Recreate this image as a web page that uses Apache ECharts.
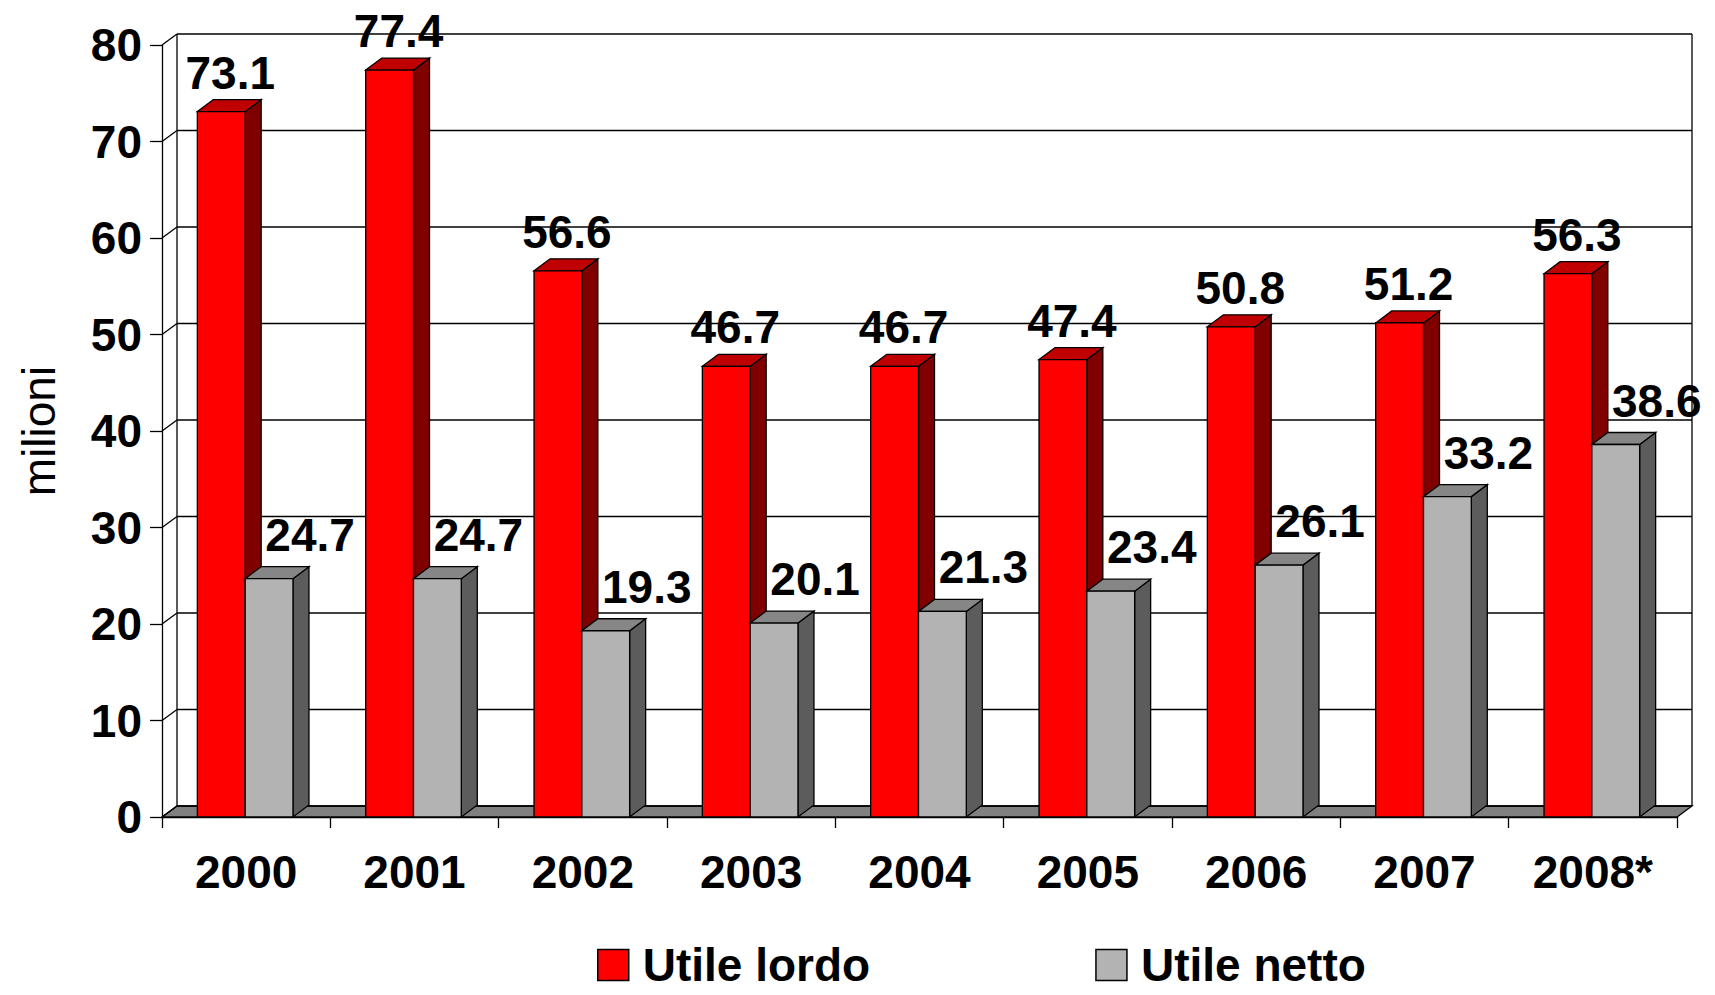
<!DOCTYPE html>
<html>
<head>
<meta charset="utf-8">
<script src="https://cdn.jsdelivr.net/npm/echarts@6/dist/echarts.min.js"></script>
<style>
  html, body { margin: 0; padding: 0; background: #fff; }
  #chart { width: 1715px; height: 995px; }
</style>
</head>
<body>
<div id="chart"></div>
<script>
var categories = ['2000', '2001', '2002', '2003', '2004', '2005', '2006', '2007', '2008*'];
var utileLordo = [73.1, 77.4, 56.6, 46.7, 46.7, 47.4, 50.8, 51.2, 56.3];
var utileNetto = [24.7, 24.7, 19.3, 20.1, 21.3, 23.4, 26.1, 33.2, 38.6];
var yTicks = [0, 10, 20, 30, 40, 50, 60, 70, 80];

var FONT = '"Liberation Sans", Arial, sans-serif';
var DX = 15, DY = 11;      // depth of the walls
var BDX = 16, BDY = 12;    // depth of the bars

let chart = echarts.init(document.getElementById('chart'), null, { renderer: 'svg' });

// back wall, left wall and floor
function renderWalls(params, api) {
  var cs = params.coordSys;
  var x0 = cs.x, x1 = cs.x + cs.width;
  var v = api.value(0);
  var y = api.coord([0, v])[1];
  var line = { stroke: '#000', lineWidth: 1.3 };
  var children = [
    { type: 'line', shape: { x1: x0, y1: y, x2: x0 + DX, y2: y - DY }, style: line },
    { type: 'line', shape: { x1: x0 + DX, y1: y - DY, x2: x1 + DX, y2: y - DY }, style: line }
  ];
  if (params.dataIndex === 0) {
    var yTop = api.coord([0, yTicks[yTicks.length - 1]])[1];
    children.unshift({
      type: 'polygon',
      shape: { points: [[x0, y], [x1, y], [x1 + DX, y - DY], [x0 + DX, y - DY]] },
      style: { fill: '#808080', stroke: '#000', lineWidth: 1.3 }
    });
    children.push(
      { type: 'line', shape: { x1: x0 + DX, y1: y - DY, x2: x0 + DX, y2: yTop - DY }, style: line },
      { type: 'line', shape: { x1: x1 + DX, y1: y - DY, x2: x1 + DX, y2: yTop - DY }, style: line }
    );
  }
  return { type: 'group', children: children };
}

function barRenderer(which, colors, labelDx, labelDy) {
  return function (params, api) {
    var cat = api.value(0), val = api.value(1);
    var base = api.coord([cat, 0]);
    var top = api.coord([cat, val]);
    var bw = api.size([1, 0])[0];
    var w = bw * 0.284;
    var x0 = which === 0 ? base[0] - w - 1 : base[0] - 1;
    var x1 = x0 + w;
    var yt = top[1], yb = base[1];
    var edge = { stroke: '#000', lineWidth: 1.3 };
    return {
      type: 'group',
      children: [
        { type: 'polygon', shape: { points: [[x1, yt], [x1 + BDX, yt - BDY], [x1 + BDX, yb - BDY], [x1, yb]] },
          style: Object.assign({ fill: colors[2] }, edge) },
        { type: 'polygon', shape: { points: [[x0, yt], [x0 + BDX, yt - BDY], [x1 + BDX, yt - BDY], [x1, yt]] },
          style: Object.assign({ fill: colors[1] }, edge) },
        { type: 'rect', shape: { x: x0, y: yt, width: w, height: yb - yt },
          style: Object.assign({ fill: colors[0] }, edge) },
        { type: 'text', z2: 100, x: x0 + w / 2 + labelDx, y: yt - labelDy,
          style: { text: val.toFixed(1), fill: '#000', fontSize: 46, fontWeight: 'bold',
                   fontFamily: FONT, align: 'center', verticalAlign: 'middle' } }
      ]
    };
  };
}

function toPairs(arr) {
  return arr.map(function (v, i) { return [i, v]; });
}

option = {
  backgroundColor: '#fff',
  animation: false,
  grid: { left: 162, right: 38, top: 45, bottom: 178 },
  legend: {
    data: ['Utile lordo', 'Utile netto'],
    left: 592,
    top: 937,
    padding: 5,
    itemWidth: 31,
    itemHeight: 31,
    itemGap: 225,
    icon: 'rect',
    itemStyle: { borderColor: '#000', borderWidth: 1.5 },
    textStyle: { fontSize: 46, lineHeight: 44, fontWeight: 'bold', color: '#000', fontFamily: FONT, padding: [0, 0, 0, 9] }
  },
  xAxis: {
    type: 'category',
    data: categories,
    axisLine: { show: true, lineStyle: { color: '#000', width: 1.3 } },
    axisTick: { show: true, length: 11, lineStyle: { color: '#000', width: 1.3 } },
    axisLabel: { fontSize: 46, fontWeight: 'bold', color: '#000', fontFamily: FONT, margin: 32 },
    splitLine: { show: false }
  },
  yAxis: {
    type: 'value',
    min: 0,
    max: 80,
    interval: 10,
    name: 'milioni',
    nameLocation: 'middle',
    nameRotate: 90,
    nameGap: 100,
    nameTextStyle: { fontSize: 46, color: '#000', fontFamily: FONT },
    axisLine: { show: true, lineStyle: { color: '#000', width: 1.3 } },
    axisTick: { show: true, length: 12, lineStyle: { color: '#000', width: 1.3 } },
    axisLabel: { fontSize: 46, fontWeight: 'bold', color: '#000', fontFamily: FONT, margin: 20 },
    splitLine: { show: false }
  },
  series: [
    {
      name: 'walls',
      type: 'custom',
      z: 1,
      silent: true,
      renderItem: renderWalls,
      encode: { y: 0 },
      data: yTicks.map(function (t) { return [t]; })
    },
    {
      name: 'Utile lordo',
      type: 'custom',
      z: 2,
      itemStyle: { color: '#FF0000' },
      renderItem: barRenderer(0, ['#FF0000', '#C00000', '#800000'], 9, 39),
      encode: { x: 0, y: 1 },
      data: toPairs(utileLordo)
    },
    {
      name: 'Utile netto',
      type: 'custom',
      z: 3,
      itemStyle: { color: '#B3B3B3' },
      renderItem: barRenderer(1, ['#B3B3B3', '#868686', '#5C5C5C'], 41, 44),
      encode: { x: 0, y: 1 },
      data: toPairs(utileNetto)
    }
  ]
};

chart.setOption(option);
</script>
</body>
</html>
